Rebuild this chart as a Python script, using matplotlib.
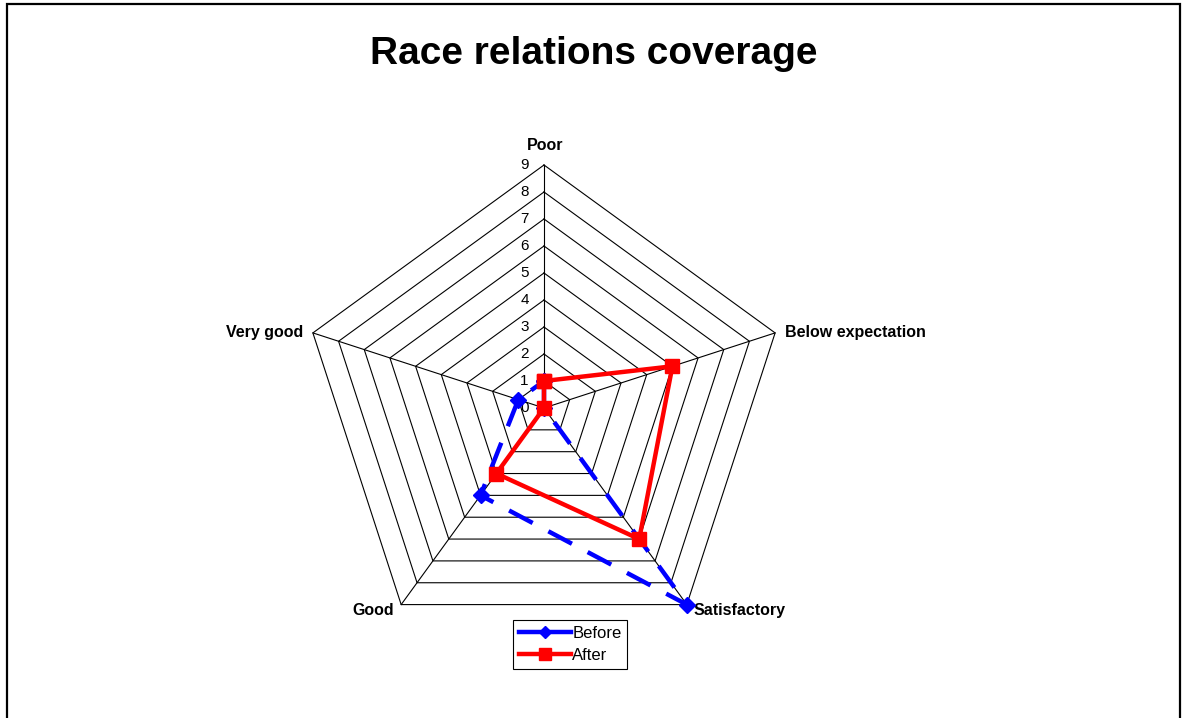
import numpy as np
import matplotlib
matplotlib.use('Agg')
import matplotlib.pyplot as plt
from matplotlib.patches import Rectangle

plt.rcParams['font.family'] = ['Liberation Sans', 'DejaVu Sans']

# data
categories = ['Poor', 'Below expectation', 'Satisfactory', 'Good', 'Very good']
before = [1, 0, 9, 4, 1]
after = [1, 5, 6, 3, 0]
rings = list(range(0, 10))

W, H = 1182, 718
fig = plt.figure(figsize=(W / 100, H / 100), dpi=100)

# radar centre and radius in pixels
cx, cy, R = 544, 408, 243
ax = fig.add_axes([(cx - R) / W, (H - cy - R) / H, 2 * R / W, 2 * R / H],
                  projection='polar')
ax.set_theta_offset(np.pi / 2)
ax.set_theta_direction(-1)
ax.set_ylim(0, 9)
ax.grid(False)
ax.spines['polar'].set_visible(False)
ax.set_xticks([])
ax.set_yticks([])
ax.patch.set_visible(False)

n = len(categories)
angles = np.arange(n) * 2 * np.pi / n
closed = np.append(angles, angles[0])

# rings and spokes
for r in rings[1:]:
    ax.plot(closed, [r] * (n + 1), color='black', lw=0.8, clip_on=False, zorder=1)
for a in angles:
    ax.plot([a, a], [0, rings[-1]], color='black', lw=0.8, clip_on=False, zorder=1)

# value labels on the Poor axis
for r in rings:
    ax.annotate(str(r), xy=(0, r), xytext=(-11, 0), textcoords='offset points',
                ha='right', va='center', fontsize=11, annotation_clip=False)

# category labels
offsets = [((1, 9), 'center', 'bottom'),
           ((7, 0), 'left', 'center'),
           ((5, -4), 'left', 'center'),
           ((-5, -4), 'right', 'center'),
           ((-7, 0), 'right', 'center')]
for a, name, (off, ha, va) in zip(angles, categories, offsets):
    ax.annotate(name, xy=(a, rings[-1]), xytext=off, textcoords='offset points',
                ha=ha, va=va, fontsize=11.5, fontweight='bold', annotation_clip=False)

ax.plot(closed, before + before[:1], color='#0000ff', lw=3.2, dashes=(6, 4),
        marker='D', markersize=8, label='Before', clip_on=False, zorder=3)
ax.plot(closed, after + after[:1], color='#ff0000', lw=3.2,
        marker='s', markersize=10, label='After', clip_on=False, zorder=4)

leg = fig.legend(loc='upper left', bbox_to_anchor=(513 / W, 1 - 620 / H),
                 fontsize=12, frameon=True, fancybox=False, framealpha=1,
                 edgecolor='black', handlelength=3.1, handletextpad=0.1,
                 borderpad=0.35, labelspacing=0.45, borderaxespad=0)
leg.get_frame().set_linewidth(0.8)
leg.legend_handles[0].set_linestyle('-')
leg.legend_handles[0].set_markersize(6)
leg.legend_handles[1].set_markersize(8)

fig.text(594 / W, 1 - 54 / H, 'Race relations coverage', ha='center', va='center',
         fontsize=28, fontweight='bold')

# outer chart border, open at the bottom
fig.patches.append(Rectangle((7 / W, -0.05), 1173 / W, 1.05 - 4 / H,
                             transform=fig.transFigure, fill=False,
                             edgecolor='black', lw=1.6))

fig.savefig('out.png', dpi=100)
